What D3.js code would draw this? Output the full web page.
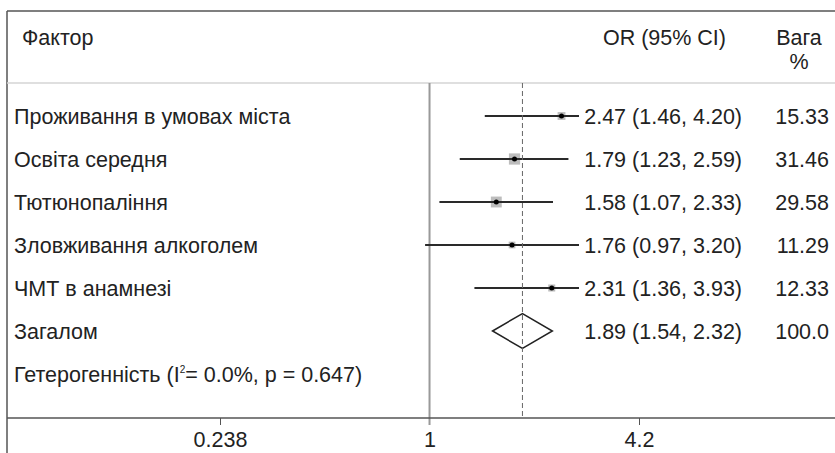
<!DOCTYPE html>
<html>
<head>
<meta charset="utf-8">
<script src="https://cdn.jsdelivr.net/npm/d3@7"></script>
<style>
  body { margin: 0; background: #fff; }
  text { font-family: "Liberation Sans", Arial, sans-serif; fill: #222; }
</style>
</head>
<body>
<div id="forest"></div>
<script>
// Forest plot: фактори ризику
let svgWidth = 835;
let svgHeight = 453;

let factors = ["Проживання в умовах міста", "Освіта середня", "Тютюнопаління", "Зловживання алкоголем", "ЧМТ в анамнезі"];
let orValues = [2.47, 1.79, 1.58, 1.76, 2.31];
let ciLow = [1.46, 1.23, 1.07, 0.97, 1.36];
let ciHigh = [4.20, 2.59, 2.33, 3.20, 3.93];
let weights = [15.33, 31.46, 29.58, 11.29, 12.33];
let orLabels = ["2.47 (1.46, 4.20)", "1.79 (1.23, 2.59)", "1.58 (1.07, 2.33)", "1.76 (0.97, 3.20)", "2.31 (1.36, 3.93)"];
let weightLabels = ["15.33", "31.46", "29.58", "11.29", "12.33"];

let pooledLabel = "Загалом";
let pooled = [1.89, 1.54, 2.32];
let pooledText = "1.89 (1.54, 2.32)";
let pooledWeight = "100.0";
let hetLabel = "Гетерогенність";

let tickValues = [0.238, 1, 4.2];
let tickLabels = ["0.238", "1", "4.2"];

let rows = factors.concat([pooledLabel, hetLabel]);
let fs = 21.5;

let svg = d3.select("#forest")
  .append("svg")
  .attr("width", svgWidth)
  .attr("height", svgHeight);

let x = d3.scaleLog().domain([0.238, 4.2]).range([220, 639]);
let y = d3.scalePoint().domain(rows).range([116, 374]);

let axisY = 418;
let topY = 83;

// frame
svg.append("line").attr("x1", 7).attr("x2", svgWidth).attr("y1", 11).attr("y2", 11)
  .attr("stroke", "#555").attr("stroke-width", 1.5);
svg.append("line").attr("x1", 7).attr("x2", 7).attr("y1", 11).attr("y2", svgHeight)
  .attr("stroke", "#555").attr("stroke-width", 1.5);
svg.append("line").attr("x1", 7).attr("x2", svgWidth).attr("y1", topY).attr("y2", topY)
  .attr("stroke", "#d4d4d4").attr("stroke-width", 1.5);

// header
svg.append("text").attr("x", 22).attr("y", 45).attr("font-size", fs).text("Фактор");
svg.append("text").attr("x", 726).attr("y", 45).attr("font-size", fs).attr("text-anchor", "end").text("OR (95% CI)");
svg.append("text").attr("x", 799).attr("y", 45).attr("font-size", fs).attr("text-anchor", "middle").text("Вага");
svg.append("text").attr("x", 799).attr("y", 69).attr("font-size", fs).attr("text-anchor", "middle").text("%");

// line of no effect
svg.append("line").attr("x1", x(1)).attr("x2", x(1)).attr("y1", topY).attr("y2", axisY + 7)
  .attr("stroke", "#999").attr("stroke-width", 2);

// axis
let axis = d3.axisBottom(x).tickValues(tickValues).tickSize(7).tickFormat(function(d, i) { return tickLabels[i]; });
let gAxis = svg.append("g").attr("transform", "translate(0," + axisY + ")").call(axis);
gAxis.select(".domain").remove();
gAxis.selectAll(".tick line").attr("stroke", "#555");
gAxis.selectAll(".tick text").attr("font-size", fs).attr("dy", "0.9em").attr("font-family", null).attr("fill", "#222");
gAxis.selectAll(".tick").filter(function(d) { return d === 1; }).select("line").remove();
svg.append("line").attr("x1", 7).attr("x2", svgWidth).attr("y1", axisY).attr("y2", axisY)
  .attr("stroke", "#555").attr("stroke-width", 1.5);

// clip CI lines before the text column
svg.append("clipPath").attr("id", "plotClip")
  .append("rect").attr("x", 7).attr("y", topY).attr("width", 572).attr("height", axisY - topY);

let plot = svg.append("g").attr("clip-path", "url(#plotClip)");

let studies = factors.map(function(f, i) {
  return { name: f, or: orValues[i], lo: ciLow[i], hi: ciHigh[i], w: weights[i], label: orLabels[i], wl: weightLabels[i] };
});

plot.selectAll(".box").data(studies).enter().append("rect")
  .attr("x", function(d) { return x(d.or) - Math.sqrt(d.w); })
  .attr("y", function(d) { return y(d.name) - Math.sqrt(d.w); })
  .attr("width", function(d) { return 2 * Math.sqrt(d.w); })
  .attr("height", function(d) { return 2 * Math.sqrt(d.w); })
  .attr("fill", "#bdbdbd");

plot.selectAll(".ci").data(studies).enter().append("line")
  .attr("x1", function(d) { return x(d.lo); })
  .attr("x2", function(d) { return x(d.hi); })
  .attr("y1", function(d) { return y(d.name); })
  .attr("y2", function(d) { return y(d.name); })
  .attr("stroke", "#2a2a2a").attr("stroke-width", 1.8);

plot.selectAll(".dot").data(studies).enter().append("circle")
  .attr("cx", function(d) { return x(d.or); })
  .attr("cy", function(d) { return y(d.name); })
  .attr("r", 2.5)
  .attr("fill", "#000");

// pooled diamond
let py = y(pooledLabel);
svg.append("path")
  .attr("d", "M" + x(pooled[1]) + "," + py + "L" + x(pooled[0]) + "," + (py - 17.5) +
    "L" + x(pooled[2]) + "," + py + "L" + x(pooled[0]) + "," + (py + 17.5) + "Z")
  .attr("fill", "#fff").attr("stroke", "#222").attr("stroke-width", 1.5);

// pooled estimate line
svg.append("line").attr("x1", x(pooled[0])).attr("x2", x(pooled[0])).attr("y1", topY).attr("y2", axisY)
  .attr("stroke", "#666").attr("stroke-width", 1).attr("stroke-dasharray", "5,3");

// row texts
let rowText = svg.append("g");
rowText.selectAll(".name").data(studies).enter().append("text")
  .attr("x", 14).attr("y", function(d) { return y(d.name); }).attr("dy", "0.35em")
  .attr("font-size", fs).text(function(d) { return d.name; });
rowText.selectAll(".or").data(studies).enter().append("text")
  .attr("x", 742).attr("y", function(d) { return y(d.name); }).attr("dy", "0.35em")
  .attr("text-anchor", "end").attr("font-size", fs).text(function(d) { return d.label; });
rowText.selectAll(".w").data(studies).enter().append("text")
  .attr("x", 829).attr("y", function(d) { return y(d.name); }).attr("dy", "0.35em")
  .attr("text-anchor", "end").attr("font-size", fs).text(function(d) { return d.wl; });

rowText.append("text").attr("x", 14).attr("y", py).attr("dy", "0.35em").attr("font-size", fs).text(pooledLabel);
rowText.append("text").attr("x", 742).attr("y", py).attr("dy", "0.35em").attr("text-anchor", "end").attr("font-size", fs).text(pooledText);
rowText.append("text").attr("x", 829).attr("y", py).attr("dy", "0.35em").attr("text-anchor", "end").attr("font-size", fs).text(pooledWeight);

let het = rowText.append("text").attr("x", 14).attr("y", y(hetLabel)).attr("dy", "0.35em").attr("font-size", fs);
het.append("tspan").text(hetLabel + " (I");
het.append("tspan").attr("font-size", 10).attr("dy", "-0.85em").text("2");
het.append("tspan").attr("dy", "0.42em").text("= 0.0%, p = 0.647)");
</script>
</body>
</html>
